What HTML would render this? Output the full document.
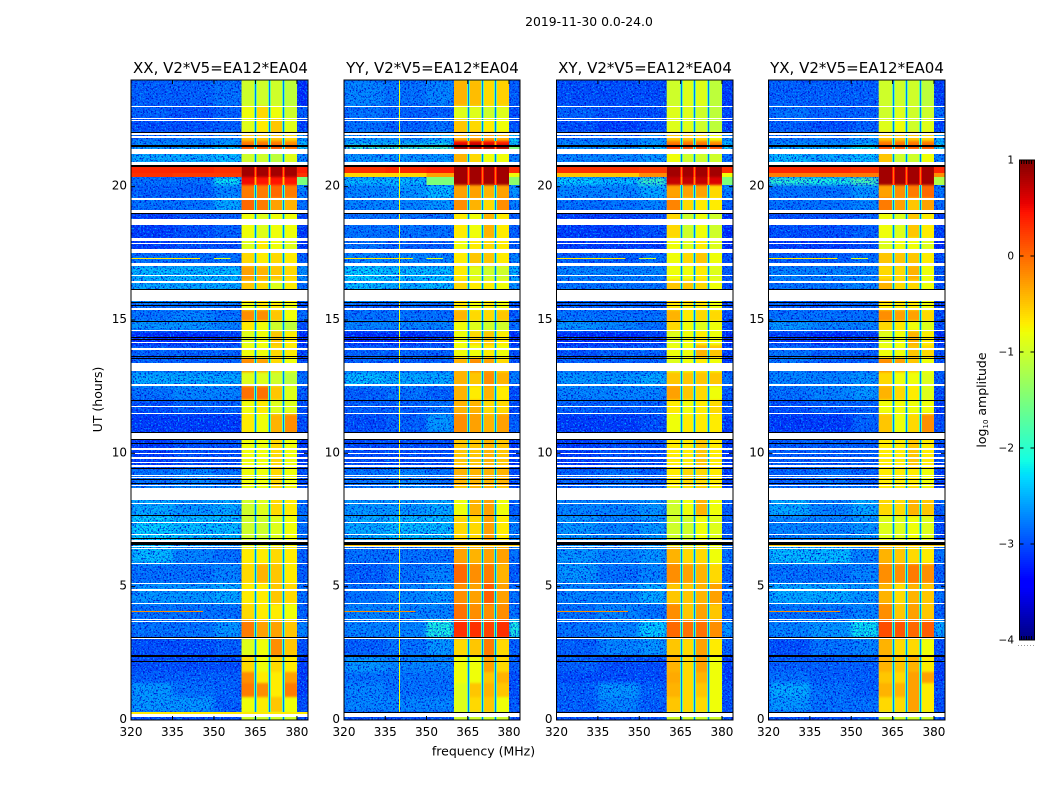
<!DOCTYPE html>
<html lang="en">
<head>
<meta charset="utf-8">
<title>2019-11-30 0.0-24.0</title>
<style>
html,body{margin:0;padding:0;background:#fff;width:1050px;height:800px;overflow:hidden}
svg{display:block}
text{font-family:"DejaVu Sans","Liberation Sans",sans-serif;fill:#000}
</style>
</head>
<body>
<svg id="chart" width="1050" height="800" viewBox="0 0 1050 800">
  <defs>
    <filter id="speckle" x="0" y="0" width="100%" height="100%" color-interpolation-filters="sRGB">
      <feTurbulence type="fractalNoise" baseFrequency="0.6" numOctaves="2" seed="7"/>
      <feColorMatrix type="matrix" values="0 0 0 0 0  0 0 0 0 0.06  0 0 0 0 0.82  5 0 0 0 -2.5" result="dark"/>
      <feTurbulence type="fractalNoise" baseFrequency="0.6" numOctaves="2" seed="23"/>
      <feColorMatrix type="matrix" values="0 0 0 0 0  0 0 0 0 0.62  0 0 0 0 1  5 0 0 0 -2.75" result="light"/>
      <feMerge><feMergeNode in="dark"/><feMergeNode in="light"/></feMerge>
    </filter>
    <filter id="soft-low" x="-5%" y="-2%" width="110%" height="104%" color-interpolation-filters="sRGB">
      <feGaussianBlur stdDeviation="2 1.5"/>
    </filter>
    <filter id="soft-band" x="0" y="-2%" width="100%" height="104%" color-interpolation-filters="sRGB">
      <feGaussianBlur stdDeviation="0 1"/>
    </filter>
  </defs>
  <rect x="0" y="0" width="1050" height="800" fill="#fff"/>
  <text x="589" y="26" font-size="12.4" text-anchor="middle">2019-11-30 0.0-24.0</text>
  <text x="220.500" y="73" font-size="15" text-anchor="middle">XX, V2*V5=EA12*EA04</text>
  <text x="432.500" y="73" font-size="15" text-anchor="middle">YY, V2*V5=EA12*EA04</text>
  <text x="645" y="73" font-size="15" text-anchor="middle">XY, V2*V5=EA12*EA04</text>
  <text x="857" y="73" font-size="15" text-anchor="middle">YX, V2*V5=EA12*EA04</text>
  <text x="483.500" y="755.500" font-size="12.500" text-anchor="middle">frequency (MHz)</text>
  <text transform="translate(102,399.500) rotate(-90)" font-size="12.500" text-anchor="middle">UT (hours)</text>
  <text transform="translate(986,400) rotate(-90)" font-size="12.500" text-anchor="middle">log<tspan font-size="7" dy="2">10</tspan><tspan dy="-2"> amplitude</tspan></text>
  <g id="panels"></g>
  <g id="colorbar"></g>
</svg>
<script>
/* Row boundaries in UT hours, top of the plot to the bottom */
const rowEdgesUT = [24.00,23.03,22.54,22.05,21.71,21.56,21.36,20.81,20.51,20.36,20.06,19.58,19.05,18.08,17.55,17.03,16.50,15.68,15.38,14.96,14.59,14.06,13.58,13.05,12.53,12.00,11.48,10.76,9.45,8.70,7.65,6.53,5.85,5.14,4.35,3.75,3.08,2.40,1.80,1.39,0.86,0.30,0.00];
/* Frequency column boundaries in MHz */
const freqEdgesMHz = [320,335,350,360,365,370,375,380,384];
const subbandGapsMHz = [365,370,375];
const xTicks = [320,335,350,365,380];
const yTicks = [0,5,10,15,20];
const colorbarTicks = [1,0,-1,-2,-3,-4];
const panelNames = ['xx','yy','xy','yx'];

/* log10 amplitude per row: 320-335, 335-350, 350-360, four subbands, 380-384 */
const xxLevels = [
[-2.7,-2.7,-2.6,-1.0,-1.0,-1.0,-1.1,-3.0],[-2.7,-2.8,-2.7,-0.8,-0.6,-0.8,-1.0,-2.7],[-2.8,-2.8,-2.7,-0.9,-0.7,-0.5,-0.9,-2.9],[-2.6,-2.6,-2.5,-0.5,-0.5,-0.5,-0.6,-2.4],
[-2.5,-2.5,-2.4,-0.1,-0.1,-0.1,-0.2,-2.2],[-2.4,-2.4,-2.2,0.1,0.1,0.1,0.0,-2.0],[-2.3,-2.3,-2.2,-1.0,-1.0,-1.1,-0.9,-2.5],[0.35,0.35,0.3,0.85,0.85,0.85,0.85,0.4],[0.3,0.25,0.25,0.85,0.85,0.85,0.85,0.3],[-2.6,-2.6,-2.0,0.5,0.45,0.45,0.45,-1.5],
[-2.7,-2.7,-2.5,-0.1,-0.1,0.0,-0.1,-2.5],[-2.6,-2.6,-2.3,0.0,-0.1,-0.3,-0.4,-2.6],[-2.9,-2.8,-2.7,-0.8,-0.9,-0.8,-0.8,-2.9],[-2.9,-2.8,-2.8,-0.9,-0.7,-0.8,-0.9,-2.9],
[-2.6,-2.6,-2.6,-0.6,-0.7,-0.6,-0.7,-2.7],[-2.2,-2.2,-2.2,-0.3,-0.4,-0.5,-0.6,-2.4],[-2.3,-2.3,-2.3,-0.5,-0.6,-0.9,-0.7,-2.6],[-2.6,-2.6,-2.6,-0.8,-0.7,-0.7,-0.8,-2.8],
[-2.6,-2.5,-2.6,-0.2,-0.2,-0.5,-0.8,-2.6],[-2.4,-2.4,-2.5,-0.7,-0.8,-1.0,-1.1,-2.8],[-3.0,-3.0,-2.9,-0.9,-0.8,-0.5,-0.7,-3.0],[-2.7,-2.7,-2.7,-0.8,-0.8,-0.6,-0.7,-2.9],
[-2.7,-2.7,-2.7,-0.2,-0.3,-0.6,-0.8,-2.8],[-2.3,-2.3,-2.3,-0.9,-0.9,-1.0,-1.1,-2.6],[-2.6,-2.5,-2.5,-0.05,-0.05,-0.5,-0.9,-2.7],[-2.8,-2.7,-2.7,-0.8,-0.7,-0.9,-0.9,-2.8],
[-2.9,-2.9,-2.9,-0.7,-0.8,-0.4,-0.2,-2.8],[-2.9,-2.8,-2.8,-0.8,-0.8,-0.6,-0.8,-2.9],[-2.6,-2.5,-2.6,-0.8,-0.8,-0.6,-0.8,-2.8],[-2.3,-2.4,-2.3,-1.0,-0.9,-0.6,-0.7,-2.6],
[-2.1,-2.2,-2.2,-1.0,-1.0,-0.9,-0.8,-2.6],[-2.2,-2.5,-2.6,-0.7,-0.7,-0.6,-0.7,-2.7],[-2.6,-2.6,-2.5,-0.6,-0.4,-0.5,-0.7,-2.7],[-2.4,-2.4,-2.3,-0.7,-0.7,-0.5,-0.6,-2.6],
[-2.6,-2.6,-2.6,-0.6,-0.7,-0.7,-0.8,-2.7],[-2.6,-2.6,-2.4,-0.1,-0.3,-0.3,-0.5,-2.5],[-2.8,-2.8,-2.7,-0.9,-0.8,-0.2,-0.5,-2.8],[-2.8,-2.8,-2.8,-0.6,-0.8,-0.6,-0.7,-2.9],
[-2.7,-2.7,-2.7,-0.2,-0.7,-0.7,-0.3,-2.9],[-2.4,-2.6,-2.7,-0.1,-0.2,-0.7,-0.1,-2.9],[-2.4,-2.4,-2.7,-0.8,-0.7,-0.5,-0.8,-2.8],[-2.8,-2.8,-2.8,-1.0,-1.0,-1.0,-1.0,-2.8]
];
const yyLevels = [
[-2.5,-2.6,-2.5,-0.4,-0.45,-0.6,-0.55,-2.7],[-2.6,-2.7,-2.7,-0.9,-0.9,-1.0,-0.9,-2.8],[-2.6,-2.7,-2.6,-0.5,-0.6,-0.7,-0.8,-2.8],[-2.4,-2.5,-2.3,-0.4,-0.3,-0.3,-0.4,-2.2],
[-2.3,-2.3,-2.2,0.5,0.6,0.5,0.4,-2.0],[-1.7,-1.7,-1.6,0.85,0.85,0.85,0.8,-1.5],[-2.4,-2.4,-2.4,-0.4,-0.6,-0.8,-0.8,-2.5],[0.3,0.35,0.4,0.85,0.85,0.85,0.85,0.3],[-0.6,-0.6,-0.3,0.85,0.85,0.85,0.85,-0.8],[-2.2,-2.2,-1.5,0.85,0.85,0.85,0.85,-1.4],
[-2.5,-2.4,-2.2,-0.3,-0.3,-0.4,-0.3,-2.4],[-2.5,-2.5,-2.4,-0.2,-0.4,-0.6,-0.2,-2.5],[-2.6,-2.6,-2.6,-0.7,-0.8,-0.4,-0.7,-2.7],[-2.6,-2.7,-2.7,-0.8,-0.7,-0.6,-0.7,-2.7],
[-2.5,-2.5,-2.5,-0.7,-0.5,-0.5,-0.7,-2.5],[-2.1,-2.2,-2.2,-0.7,-0.9,-1.0,-1.0,-2.2],[-2.2,-2.3,-2.2,-0.6,-0.7,-0.7,-0.8,-2.4],[-2.7,-2.7,-2.7,-0.7,-0.8,-0.7,-0.8,-2.8],
[-2.6,-2.6,-2.6,-0.4,-0.6,-0.6,-0.5,-2.7],[-2.5,-2.5,-2.5,-0.8,-0.9,-1.0,-1.0,-2.6],[-3.0,-3.0,-2.9,-0.8,-0.6,-0.5,-0.7,-3.0],[-2.7,-2.7,-2.7,-0.8,-0.8,-0.7,-0.8,-2.8],
[-2.7,-2.7,-2.7,-0.4,-0.2,-0.3,-0.6,-2.8],[-2.2,-2.3,-2.3,-0.4,-0.5,-0.2,-0.4,-2.5],[-2.7,-2.6,-2.7,-0.4,-0.7,-0.4,-0.7,-2.8],[-2.7,-2.7,-2.6,-0.4,-0.4,-0.6,-0.6,-2.8],
[-2.8,-2.7,-2.4,-0.2,-0.3,-0.4,-0.3,-2.7],[-2.8,-2.8,-2.8,-0.5,-0.5,-0.4,-0.5,-2.9],[-2.6,-2.5,-2.6,-0.4,-0.4,-0.4,-0.4,-2.8],[-2.4,-2.4,-2.3,-0.8,-0.4,-0.3,-0.8,-2.7],
[-2.3,-2.2,-2.2,-0.6,-0.6,-0.3,-0.7,-2.5],[-2.6,-2.6,-2.6,-0.3,-0.4,-0.3,-0.3,-2.6],[-2.7,-2.6,-2.5,0.0,-0.2,-0.1,-0.4,-2.7],[-2.6,-2.5,-2.4,-0.2,-0.3,0.05,-0.3,-2.6],
[-2.5,-2.5,-2.5,-0.05,-0.2,-0.2,-0.2,-2.6],[-2.5,-2.5,-1.9,0.3,0.3,0.2,0.3,-1.9],[-2.7,-2.6,-2.4,-0.6,-0.5,-0.1,-0.6,-2.7],[-2.4,-2.5,-2.5,-0.8,-0.8,-0.3,-0.6,-2.7],
[-2.6,-2.6,-2.6,-0.8,-0.8,-0.5,-0.4,-2.8],[-2.5,-2.6,-2.6,-0.9,-0.5,-0.4,-0.5,-2.8],[-2.5,-2.5,-2.5,-0.9,-0.6,-0.5,-0.8,-2.7],[-2.8,-2.8,-2.8,-1.0,-1.0,-1.0,-1.0,-2.8]
];
const xyLevels = [
[-2.8,-2.8,-2.8,-1.0,-0.9,-0.9,-1.1,-2.9],[-2.7,-2.8,-2.8,-0.9,-0.9,-1.0,-1.1,-2.8],[-2.8,-2.9,-2.8,-0.9,-0.9,-1.0,-1.1,-2.9],[-2.6,-2.7,-2.5,-0.5,-0.5,-0.6,-0.8,-2.4],
[-2.5,-2.5,-2.4,-0.1,-0.1,-0.1,-0.2,-2.2],[-2.4,-2.4,-2.2,0.25,0.2,0.2,0.15,-2.0],[-2.5,-2.5,-2.4,-0.8,-1.0,-1.0,-1.0,-2.6],[0.3,0.3,0.25,0.85,0.85,0.85,0.85,0.3],[-0.5,-0.5,-0.2,0.85,0.85,0.85,0.85,-0.8],[-2.1,-2.2,-1.7,0.7,0.7,0.7,0.6,-1.5],
[-2.5,-2.5,-2.3,-0.3,-0.3,-0.3,-0.6,-2.5],[-2.6,-2.6,-2.5,-0.15,-0.6,-0.7,-0.7,-2.7],[-2.9,-2.9,-2.8,-0.6,-1.0,-0.8,-1.0,-3.0],[-2.9,-2.9,-2.9,-0.8,-0.9,-0.7,-0.9,-3.0],
[-2.7,-2.7,-2.6,-0.8,-0.6,-0.5,-0.8,-2.8],[-2.5,-2.5,-2.5,-0.8,-0.8,-0.7,-0.9,-2.7],[-2.6,-2.6,-2.6,-0.5,-0.5,-0.6,-0.8,-2.8],[-2.7,-2.7,-2.7,-0.7,-0.7,-0.7,-0.8,-2.8],
[-2.6,-2.6,-2.6,-0.4,-0.7,-0.6,-0.6,-2.8],[-2.4,-2.5,-2.6,-0.6,-0.8,-0.9,-0.8,-2.8],[-3.0,-3.0,-2.9,-0.9,-0.8,-0.7,-0.8,-3.0],[-2.8,-2.7,-2.7,-0.8,-0.8,-0.4,-0.5,-2.9],
[-2.7,-2.7,-2.7,-0.9,-0.8,-0.7,-0.8,-2.9],[-2.4,-2.4,-2.3,-0.5,-0.5,-0.5,-0.5,-2.6],[-2.5,-2.5,-2.5,-0.3,-0.5,-0.6,-0.8,-2.7],[-2.7,-2.7,-2.7,-0.7,-0.8,-0.7,-0.6,-2.8],
[-2.9,-2.9,-2.8,-0.8,-0.7,-0.7,-0.7,-2.9],[-2.9,-2.8,-2.8,-0.7,-0.7,-0.5,-0.7,-2.9],[-2.7,-2.6,-2.7,-0.7,-0.6,-0.6,-0.7,-2.9],[-2.5,-2.5,-2.4,-1.0,-0.8,-0.4,-0.8,-2.7],
[-2.4,-2.5,-2.4,-1.0,-1.0,-0.8,-0.9,-2.7],[-2.4,-2.5,-2.4,-0.4,-0.6,-0.6,-0.8,-2.6],[-2.4,-2.6,-2.5,-0.2,-0.3,-0.4,-0.6,-2.7],[-2.5,-2.5,-2.3,-0.5,-0.5,-0.4,-0.3,-2.6],
[-2.6,-2.5,-2.6,-0.2,-0.5,-0.3,-0.5,-2.7],[-2.6,-2.5,-2.1,0.0,-0.05,-0.05,-0.2,-2.4],[-2.7,-2.5,-2.4,-0.5,-0.6,-0.3,-0.7,-2.7],[-2.7,-2.8,-2.8,-0.4,-0.6,-0.3,-0.8,-2.9],
[-2.8,-2.8,-2.8,-0.35,-0.6,-0.4,-0.8,-2.9],[-2.7,-2.4,-2.7,-0.4,-0.6,-0.5,-0.8,-2.8],[-2.7,-2.5,-2.7,-0.5,-0.6,-0.6,-0.8,-2.8],[-2.8,-2.8,-2.8,-1.0,-1.0,-1.0,-1.0,-2.8]
];
const yxLevels = [
[-2.7,-2.7,-2.7,-1.0,-1.0,-1.0,-1.1,-2.9],[-2.6,-2.7,-2.7,-1.0,-0.9,-1.0,-1.0,-2.6],[-2.7,-2.8,-2.7,-0.9,-0.8,-1.0,-0.9,-2.9],[-2.6,-2.6,-2.4,-0.5,-0.5,-0.5,-0.6,-2.3],
[-2.5,-2.5,-2.4,-0.1,-0.1,-0.1,-0.1,-2.2],[-2.3,-2.3,-2.0,0.15,0.1,0.05,0.1,-1.9],[-2.2,-2.3,-2.2,-0.5,-1.0,-1.0,-0.8,-2.5],[0.35,0.35,0.3,0.85,0.85,0.85,0.85,0.35],[-0.1,-0.1,-0.1,0.85,0.85,0.85,0.85,-0.2],[-1.8,-1.9,-1.6,0.85,0.85,0.85,0.85,-1.2],
[-2.6,-2.6,-2.4,-0.3,-0.2,-0.1,0.0,-2.6],[-2.6,-2.6,-2.5,-0.1,-0.3,-0.5,-0.3,-2.6],[-2.8,-2.8,-2.7,-0.8,-0.9,-0.5,-0.7,-2.9],[-2.9,-2.9,-2.8,-0.9,-0.8,-0.8,-0.9,-3.0],
[-2.7,-2.7,-2.6,-0.5,-0.5,-0.5,-0.7,-2.8],[-2.5,-2.5,-2.5,-0.6,-0.6,-0.4,-0.8,-2.7],[-2.6,-2.6,-2.5,-0.4,-0.6,-0.6,-0.8,-2.8],[-2.7,-2.7,-2.7,-0.7,-0.7,-0.7,-0.8,-2.9],
[-2.6,-2.6,-2.6,-0.2,-0.3,-0.3,-0.6,-2.8],[-2.4,-2.5,-2.5,-0.6,-0.7,-0.8,-0.9,-2.8],[-2.9,-3.0,-2.9,-0.9,-0.8,-0.4,-0.7,-3.0],[-2.6,-2.7,-2.7,-0.8,-0.8,-0.5,-0.6,-2.8],
[-2.6,-2.7,-2.7,-0.2,-0.3,-0.5,-0.8,-2.8],[-2.5,-2.5,-2.4,-0.6,-0.8,-0.8,-0.9,-2.7],[-2.6,-2.5,-2.4,-0.4,-0.6,-0.7,-0.9,-2.8],[-2.8,-2.7,-2.7,-0.8,-0.8,-0.8,-0.8,-2.9],
[-2.9,-2.9,-2.7,-0.5,-0.8,-0.6,-0.2,-2.8],[-2.7,-2.7,-2.7,-0.7,-0.7,-0.5,-0.7,-2.8],[-2.7,-2.6,-2.7,-0.7,-0.7,-0.7,-0.8,-2.9],[-2.3,-2.5,-2.3,-0.6,-0.6,-0.4,-0.5,-2.7],
[-2.5,-2.5,-2.4,-0.9,-0.9,-0.8,-0.9,-2.8],[-2.2,-2.2,-2.5,-0.4,-0.5,-0.6,-0.7,-2.6],[-2.6,-2.6,-2.5,-0.2,-0.2,-0.1,-0.2,-2.7],[-2.3,-2.3,-2.4,-0.4,-0.6,-0.4,-0.5,-2.6],
[-2.6,-2.6,-2.5,-0.2,-0.5,-0.3,-0.5,-2.7],[-2.5,-2.4,-2.0,0.15,0.1,0.0,0.05,-2.3],[-2.8,-2.6,-2.5,-0.4,-0.6,-0.6,-0.8,-2.8],[-2.7,-2.7,-2.7,-0.4,-0.5,-0.4,-0.7,-2.9],
[-2.6,-2.7,-2.7,-0.5,-0.6,-0.3,-0.3,-2.9],[-2.3,-2.6,-2.7,-0.4,-0.4,-0.3,-0.7,-2.8],[-2.4,-2.6,-2.6,-0.6,-0.6,-0.3,-0.7,-2.8],[-2.8,-2.8,-2.8,-1.0,-1.0,-1.0,-1.0,-2.8]
];
/* Flagged (no data) spans in UT hours, [start, end] */
const whiteGapsUT = [[23.04,23.00],[22.59,22.55],[22.50,22.47],[22.02,21.94],[21.90,21.84],[21.40,21.24],[20.93,20.81],[19.56,19.51],[19.13,19.02],[18.80,18.56],[18.06,17.97],[17.88,17.84],[17.66,17.52],[17.13,17.03],[16.69,16.65],[16.47,16.40],[16.14,15.71],[15.46,15.38],[14.63,14.59],[14.16,14.13],[13.94,13.88],[13.38,13.09],[12.59,12.53],[11.79,11.74],[11.52,11.46],[10.75,10.54],[10.21,10.13],[10.01,9.96],[9.85,9.80],[9.69,9.63],[9.55,9.50],[9.19,9.15],[9.11,9.06],[8.82,8.79],[8.71,8.25],[8.13,8.10],[7.41,7.39],[6.99,6.96],[6.75,6.66],[6.51,6.47],[6.45,6.40],[5.90,5.85],[5.15,5.10],[4.90,4.85],[4.40,4.35],[3.77,3.74],[3.70,3.67],[3.06,3.03],[0.26,0.11]];
const blackLinesUT = [[22.06,22.02],[21.56,21.48],[20.81,20.75],[19.02,18.98],[16.17,16.14],[15.66,15.63],[15.56,15.53],[14.97,14.93],[14.37,14.34],[14.29,14.25],[13.66,13.62],[13.58,13.54],[12.00,11.96],[10.79,10.75],[10.54,10.50],[10.39,10.35],[9.46,9.40],[9.04,9.00],[8.88,8.84],[7.70,7.66],[6.84,6.81],[6.66,6.56],[3.12,3.08],[2.44,2.36],[2.21,2.18]];
/* Saturated line near the start of the day: black everywhere except XX */
const bottomLinePanels = [1,2,3];
const bottomLineUT = [0.31,0.25];
/* Narrow bright traces: panel index (-1 = all), UT, log10 amplitude, start and end MHz */
const tracePanels = [-1,-1,-1,0,0,1,3];
const traceUT = [17.34,17.34,4.09,0.30,0.27,6.56,6.56];
const traceLevels = [-0.7,-0.9,-0.2,-0.7,-0.7,-0.5,-0.5];
const traceStartMHz = [320,350,320,320,320,320,320];
const traceEndMHz = [345,356,346,384,384,384,384];
/* Persistent RFI channel visible only in YY */
const rfiPanel = 1;
const rfiMHz = 340;
const rfiLevel = -0.8;
const rfiEndUT = 0.3;

const panelLevels = [xxLevels, yyLevels, xyLevels, yxLevels];
const panelLeft = [131, 344, 556.500, 768.500];
const panelWidth = [177, 176, 176.500, 176.500];
const plotTop = 80;
const plotBottom = 720;
const lowLevelOffset = -0.2;
const NS = 'http://www.w3.org/2000/svg';

function lerp(a, b, t) { return a + (b - a) * t; }
function jetChannel(t, stops) {
  for (let i = 1; i < stops.length; i++) {
    if (t <= stops[i][0]) {
      const s = stops[i - 1], e = stops[i];
      return Math.round(255 * lerp(s[1], e[1], (t - s[0]) / (e[0] - s[0])));
    }
  }
  return Math.round(255 * stops[stops.length - 1][1]);
}
function jet(level) {
  const t = Math.max(0, Math.min(1, (level + 4) / 5));
  const r = jetChannel(t, [[0, 0], [0.35, 0], [0.66, 1], [0.89, 1], [1, 0.5]]);
  const g = jetChannel(t, [[0, 0], [0.125, 0], [0.375, 1], [0.64, 1], [0.91, 0], [1, 0]]);
  const b = jetChannel(t, [[0, 0.5], [0.11, 1], [0.34, 1], [0.65, 0], [1, 0]]);
  return 'rgb(' + r + ',' + g + ',' + b + ')';
}
function shown(level) { return level < -1.5 ? level + lowLevelOffset : level; }
function make(tag, parent, attrs) {
  const el = document.createElementNS(NS, tag);
  for (const k in attrs) el.setAttribute(k, attrs[k]);
  parent.appendChild(el);
  return el;
}
function yScale(ut) { return plotBottom - ut * (plotBottom - plotTop) / 24; }
function ySnap(ut) { return Math.round(yScale(ut)); }

const defs = document.querySelector('defs');
const panelsRoot = document.getElementById('panels');
panelNames.forEach(function (name, p) {
  const left = panelLeft[p], width = panelWidth[p];
  const xScale = function (f) { return left + (f - 320) * width / 64; };
  const g = make('g', panelsRoot, {});
  
  
  const levels = panelLevels[p];

  const clip = make('clipPath', defs, {id: 'clip-' + name});
  make('rect', clip, {x: left, y: plotTop, width: width, height: plotBottom - plotTop});
  const plot = make('g', g, {'clip-path': 'url(#clip-' + name + ')'});
  
  

  const base = make('rect', plot, {x: left, y: plotTop, width: width, height: plotBottom - plotTop, fill: jet(-3)});
  
  

  /* continuum cells below the noise threshold are softened and speckled */
  const lowGroup = make('g', plot, {filter: 'url(#soft-low)'});
  
  
  levels.forEach(function (row, r) {
    const y0 = ySnap(rowEdgesUT[r]), y1 = ySnap(rowEdgesUT[r + 1]);
    row.forEach(function (value, c) {
      if (value >= -1.5 || (c >= 3 && c <= 6)) return;
      const x0 = xScale(freqEdgesMHz[c]), x1 = xScale(freqEdgesMHz[c + 1]);
      const cell = make('rect', lowGroup, {x: x0, y: y0, width: x1 - x0, height: y1 - y0, fill: jet(shown(value))});
      
      
    });
  });

  const speckleLeft = make('rect', plot, {x: xScale(320), y: plotTop, width: xScale(360) - xScale(320), height: plotBottom - plotTop, filter: 'url(#speckle)'});
  
  
  const speckleRight = make('rect', plot, {x: xScale(380), y: plotTop, width: xScale(384) - xScale(380), height: plotBottom - plotTop, filter: 'url(#speckle)'});
  
  

  /* bright continuum cells sit above the speckle */
  levels.forEach(function (row, r) {
    const y0 = ySnap(rowEdgesUT[r]), y1 = ySnap(rowEdgesUT[r + 1]);
    row.forEach(function (value, c) {
      if (value < -1.5 || (c >= 3 && c <= 6)) return;
      const x0 = xScale(freqEdgesMHz[c]), x1 = xScale(freqEdgesMHz[c + 1]);
      const cell = make('rect', plot, {x: x0, y: y0, width: x1 - x0, height: y1 - y0, fill: jet(value), 'shape-rendering': 'crispEdges'});
      
      
    });
  });

  /* the active 360-380 MHz band */
  const bandBase = make('rect', plot, {x: xScale(360), y: plotTop, width: xScale(380) - xScale(360), height: plotBottom - plotTop, fill: jet(-1)});
  
  
  const bandGroup = make('g', plot, {filter: 'url(#soft-band)'});
  
  
  levels.forEach(function (row, r) {
    const y0 = ySnap(rowEdgesUT[r]), y1 = ySnap(rowEdgesUT[r + 1]);
    for (let c = 3; c <= 6; c++) {
      const x0 = xScale(freqEdgesMHz[c]), x1 = xScale(freqEdgesMHz[c + 1]);
      const cell = make('rect', bandGroup, {x: x0, y: y0, width: x1 - x0, height: y1 - y0, fill: jet(row[c])});
      
      
    }
    subbandGapsMHz.forEach(function (f, i) {
      const hot = row[3 + i] > 0.3;
      const flank = make('rect', plot, {x: Math.round(xScale(f)) - 1, y: y0, width: 3, height: y1 - y0, fill: jet(hot ? row[3 + i] - 0.4 : -1.7), 'shape-rendering': 'crispEdges'});
      
      
      const cell = make('rect', plot, {x: Math.round(xScale(f)), y: y0, width: 1, height: y1 - y0, fill: jet(hot ? row[3 + i] - 0.9 : -2.8), 'shape-rendering': 'crispEdges'});
      
      
    });
  });

  if (p === rfiPanel) {
    const rfi = make('rect', plot, {x: Math.round(xScale(rfiMHz)), y: plotTop, width: 1, height: yScale(rfiEndUT) - plotTop, fill: jet(rfiLevel), 'shape-rendering': 'crispEdges'});
    
    
  }

  whiteGapsUT.forEach(function (span) {
    const y0 = ySnap(span[0]);
    const gap = make('rect', plot, {x: left, y: y0, width: width, height: Math.max(1, ySnap(span[1]) - y0), fill: '#fff', 'shape-rendering': 'crispEdges'});
    
    
  });
  blackLinesUT.forEach(function (span) {
    const y0 = ySnap(span[0]);
    const line = make('rect', plot, {x: left, y: y0, width: width, height: Math.max(1, ySnap(span[1]) - y0), fill: '#000', 'shape-rendering': 'crispEdges'});
    
    
  });
  if (bottomLinePanels.indexOf(p) !== -1) {
    const y0 = ySnap(bottomLineUT[0]);
    const line = make('rect', plot, {x: left, y: y0, width: width, height: ySnap(bottomLineUT[1]) - y0, fill: '#000', 'shape-rendering': 'crispEdges'});
    
    
  }
  traceUT.forEach(function (ut, i) {
    if (tracePanels[i] !== -1 && tracePanels[i] !== p) return;
    const trace = make('rect', plot, {x: xScale(traceStartMHz[i]), y: ySnap(ut), width: xScale(traceEndMHz[i]) - xScale(traceStartMHz[i]), height: 1, fill: jet(traceLevels[i]), 'shape-rendering': 'crispEdges'});
    
    
  });

  const frame = make('rect', g, {x: left, y: plotTop, width: width, height: plotBottom - plotTop, fill: 'none', stroke: '#000', 'stroke-width': 1});
  
  

  xTicks.forEach(function (f) {
    const x = xScale(f);
    const tickB = make('line', g, {x1: x, x2: x, y1: plotBottom, y2: plotBottom - 4, stroke: '#000'});
    
    
    const tickT = make('line', g, {x1: x, x2: x, y1: plotTop, y2: plotTop + 4, stroke: '#000'});
    
    
    const label = make('text', g, {x: x, y: 736, 'font-size': 12, 'text-anchor': 'middle'});
    label.textContent = String(f);
    
    
  });
  yTicks.forEach(function (ut) {
    const y = yScale(ut);
    const tickL = make('line', g, {x1: left, x2: left + 4, y1: y, y2: y, stroke: '#000'});
    
    
    const tickR = make('line', g, {x1: left + width, x2: left + width - 4, y1: y, y2: y, stroke: '#000'});
    
    
    const label = make('text', g, {x: left - 4, y: y + 3, 'font-size': 12, 'text-anchor': 'end'});
    label.textContent = String(ut);
    
    
  });
});

/* Colorbar */
const cb = document.getElementById('colorbar');
const cbLeft = 1019.500, cbWidth = 15, cbTop = 160, cbHeight = 480;
function cbY(level) { return cbTop + (1 - level) / 5 * cbHeight; }
for (let i = 0; i < 240; i++) {
  const level = 1 - (i + 0.5) / 240 * 5;
  const swatch = make('rect', cb, {x: cbLeft, y: cbTop + i * cbHeight / 240, width: cbWidth, height: cbHeight / 240 + 0.5, fill: jet(level), 'shape-rendering': 'crispEdges'});
  
  
}
const cbFrame = make('rect', cb, {x: cbLeft, y: cbTop, width: cbWidth, height: cbHeight, fill: 'none', stroke: '#000'});


colorbarTicks.forEach(function (level) {
  const y = cbY(level);
  const tickL = make('line', cb, {x1: cbLeft, x2: cbLeft + 4, y1: y, y2: y, stroke: '#000'});
  
  
  const tickR = make('line', cb, {x1: cbLeft + cbWidth, x2: cbLeft + cbWidth - 4, y1: y, y2: y, stroke: '#000'});
  
  
  const label = make('text', cb, {x: 1014, y: y + 3.500, 'font-size': 10.500, 'text-anchor': 'end'});
  label.textContent = String(level).replace('-', '\u2212');
  
  
});
const cbEndTop = make('line', cb, {x1: 1021, x2: 1033, y1: 162, y2: 162, stroke: '#000', 'stroke-width': 4, 'stroke-dasharray': '1 1.500'});


const cbEndBottom = make('line', cb, {x1: 1021, x2: 1033, y1: 638, y2: 638, stroke: '#000', 'stroke-width': 4, 'stroke-dasharray': '1 1.500'});


const cbDots = make('line', cb, {x1: 1018, x2: 1035, y1: 645.500, y2: 645.500, stroke: '#999', 'stroke-dasharray': '1 2'});


</script>
</body>
</html>
